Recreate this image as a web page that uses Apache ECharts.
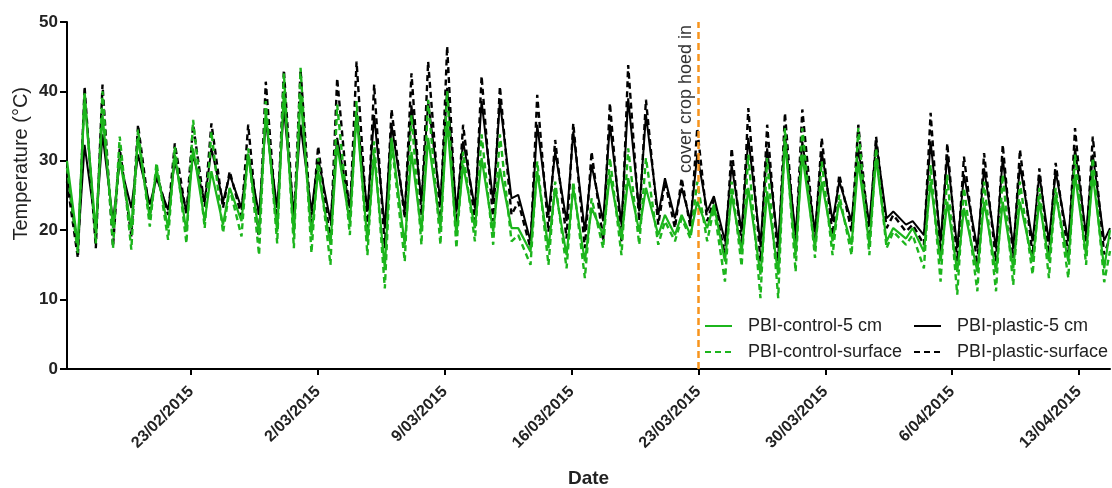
<!DOCTYPE html>
<html>
<head>
<meta charset="utf-8">
<script src="https://cdn.jsdelivr.net/npm/echarts@6/dist/echarts.min.js"></script>
<style>
html,body{margin:0;padding:0;background:#fff;}
#c{width:1112px;height:488px;}
</style>
</head>
<body>
<div id="c"></div>
<script>
// ---- data (days since 16/02/2015 00:00) ----
const tickDays = [7, 14, 21, 28, 35, 42, 49, 56];
const tickLabels = ['23/02/2015', '2/03/2015', '9/03/2015', '16/03/2015', '23/03/2015', '30/03/2015', '6/04/2015', '13/04/2015'];
const seriesNames = ['PBI-control-5 cm', 'PBI-control-surface', 'PBI-plastic-5 cm', 'PBI-plastic-surface'];
const eventDay = 35;
const eventLabel = 'cover crop hoed in';

const startDay = 0.15, endDay = 57.71, lastTroughDay = 57.39, troughLag = 0.37;
const peakDays = [1.12, 2.11, 3.06, 4.07, 5.09, 6.10, 7.11, 8.12, 9.13, 10.15,
  11.12, 12.12, 13.04, 14.01, 15.06, 16.13, 17.10, 18.06, 19.16, 20.08,
  21.13, 22.01, 23.03, 24.04, 25.05, 26.10, 27.09, 28.09, 29.10, 30.11,
  31.12, 32.10, 33.15, 34.07, 34.93, 35.85, 36.83, 37.75, 38.79, 39.77,
  40.73, 41.80, 42.77, 43.82, 44.80, 45.75, 46.82, 47.81, 48.73, 49.65,
  50.76, 51.79, 52.74, 53.81, 54.71, 55.78, 56.76];

// PBI-control-5 cm
const ctl5Start = 30, ctl5End = 20;
const ctl5Min = [17.9, 19.8, 20.3, 20.3, 21.7, 20.3, 19.8, 21.3, 20.8, 21.3,
  19.3, 19.8, 19.3, 19.3, 17.9, 21.0, 18.4, 14.5, 17.9, 19.8,
  20.3, 19.3, 20.3, 19.8, 20.3, 16.9, 17.4, 16.4, 15.5, 19.3,
  18.8, 19.8, 19.3, 19.3, 19.3, 20.3, 15.5, 16.9, 13.6, 13.6,
  16.4, 17.4, 18.4, 17.9, 17.9, 18.4, 18.8, 16.9, 15.5, 14.0,
  14.0, 14.0, 14.5, 15.5, 15.5, 15.5, 16.4, 14.5];
const ctl5Max = [39.0, 36.6, 30.4, 33.3, 28.9, 30.9, 31.8, 28.5, 26.1, 30.9,
  37.1, 40.0, 39.5, 28.5, 32.3, 36.6, 30.9, 33.3, 31.3, 33.3,
  35.7, 29.4, 30.4, 28.9, 20.3, 28.5, 26.1, 26.1, 23.2, 28.0,
  27.5, 26.1, 22.2, 22.2, 24.1, 23.7, 25.1, 26.1, 25.6, 32.8,
  30.9, 27.0, 24.1, 29.9, 30.4, 20.3, 20.3, 27.0, 24.1, 23.2,
  24.1, 24.1, 24.1, 24.1, 25.1, 28.0, 28.0];

// PBI-control-surface
const ctlSStart = 29, ctlSEnd = 17;
const ctlSMin = [16.7, 18.1, 17.4, 17.2, 20.5, 18.6, 18.1, 20.3, 19.6, 19.1,
  16.4, 18.1, 17.4, 16.7, 15.0, 19.3, 16.4, 11.6, 15.5, 17.9,
  17.9, 17.4, 18.4, 17.9, 18.4, 15.0, 15.0, 14.5, 13.1, 17.4,
  16.4, 17.9, 17.9, 18.4, 18.8, 18.4, 12.6, 14.8, 10.2, 10.2,
  14.0, 16.0, 16.4, 16.4, 16.4, 17.4, 17.9, 14.5, 12.6, 10.7,
  11.2, 11.2, 12.1, 13.6, 13.1, 13.1, 15.0, 12.5];
const ctlSMax = [40.0, 40.0, 33.5, 34.5, 29.7, 32.1, 35.9, 34.2, 26.0, 31.8,
  38.6, 42.6, 43.4, 30.4, 38.1, 38.6, 32.8, 32.8, 36.6, 38.8,
  40.0, 31.3, 33.8, 33.8, 19.3, 29.9, 27.0, 27.0, 24.6, 30.4,
  31.8, 30.4, 21.3, 21.7, 27.0, 23.2, 27.0, 30.9, 30.4, 34.7,
  34.7, 29.9, 25.1, 34.7, 31.8, 19.8, 19.3, 29.4, 28.0, 26.1,
  27.0, 28.0, 27.0, 26.1, 26.1, 30.9, 30.4];

// PBI-plastic-5 cm
const pla5Start = 28, pla5End = 20.3;
const pla5Min = [17.4, 20.3, 21.3, 23.2, 23.7, 22.9, 22.7, 24.1, 24.1, 23.2,
  22.2, 23.2, 22.2, 22.7, 21.3, 23.2, 22.7, 20.3, 22.7, 24.1,
  24.1, 22.7, 23.2, 24.1, 24.6, 18.4, 22.2, 21.3, 19.8, 21.3,
  20.8, 22.7, 22.2, 21.7, 21.3, 22.7, 18.4, 19.8, 17.9, 17.9,
  19.3, 19.8, 21.3, 21.3, 20.8, 21.7, 20.8, 19.3, 18.4, 17.4,
  17.4, 17.4, 17.4, 18.4, 18.4, 18.4, 19.3, 18.5];
const pla5Max = [32.3, 33.8, 29.9, 30.9, 27.5, 29.9, 30.9, 31.8, 28.0, 30.9,
  35.7, 37.6, 35.2, 30.4, 33.3, 37.1, 36.6, 35.2, 38.0, 38.6,
  40.5, 32.8, 38.6, 38.6, 25.1, 35.2, 31.3, 34.2, 29.4, 35.2,
  39.0, 36.6, 27.5, 26.1, 30.9, 24.9, 29.4, 33.3, 31.8, 33.8,
  32.8, 31.3, 27.0, 31.8, 32.8, 22.7, 21.3, 32.8, 30.9, 28.0,
  28.9, 30.4, 29.4, 28.0, 28.5, 31.8, 30.9];

// PBI-plastic-surface
const plaSStart = 27, plaSEnd = 19;
const plaSMin = [16.0, 17.4, 17.6, 19.1, 22.2, 22.2, 22.2, 23.4, 23.2, 22.0,
  18.4, 20.3, 20.8, 20.3, 18.4, 21.7, 20.3, 17.4, 21.7, 22.2,
  21.7, 20.3, 21.3, 21.3, 22.2, 17.4, 19.8, 18.8, 17.4, 18.4,
  18.4, 21.3, 20.8, 20.3, 20.3, 21.3, 16.4, 17.9, 15.5, 15.5,
  17.4, 18.4, 19.3, 19.8, 18.8, 20.3, 19.8, 17.9, 16.4, 15.5,
  15.0, 15.5, 16.0, 16.4, 16.4, 16.4, 17.4, 16.5];
const plaSMax = [40.7, 41.0, 31.8, 35.2, 28.2, 32.5, 35.2, 35.4, 28.5, 35.2,
  41.4, 43.1, 43.1, 32.1, 41.9, 44.3, 41.0, 37.4, 42.6, 44.3,
  46.5, 35.2, 42.2, 40.7, 24.1, 39.5, 33.0, 35.4, 31.3, 38.3,
  43.8, 38.8, 27.0, 27.5, 34.7, 24.4, 31.8, 37.6, 35.2, 36.9,
  37.4, 33.3, 28.0, 35.2, 33.5, 22.2, 20.8, 36.9, 32.5, 30.6,
  31.1, 32.3, 31.6, 28.9, 29.7, 34.7, 33.5];

// ---- build series points ----
function build(start, mins, maxs, end) {
  const pts = [[startDay, start]];
  for (let k = 0; k < peakDays.length; k++) {
    pts.push([peakDays[k] - troughLag, mins[k]]);
    pts.push([peakDays[k], maxs[k]]);
  }
  pts.push([lastTroughDay, mins[peakDays.length]]);
  pts.push([endDay, end]);
  return pts;
}

const GREEN = '#1cb51c';
const BLACK = '#000000';
const ORANGE = '#f7941d';
const FONT = '"Liberation Sans", Arial, Helvetica, sans-serif';

const chart = echarts.init(document.getElementById('c'), null, {renderer: 'canvas'});

function lineSeries(name, data, color, dashed, width, z) {
  return {
    name: name, type: 'line', data: data, showSymbol: false, symbol: 'none',
    animation: false, z: z,
    lineStyle: {color: color, width: width, type: dashed ? [6, 4] : 'solid'},
    itemStyle: {color: color}
  };
}

const sPlaS = lineSeries(seriesNames[3], build(plaSStart, plaSMin, plaSMax, plaSEnd), BLACK, true, 2.4, 2);
const sPla5 = lineSeries(seriesNames[2], build(pla5Start, pla5Min, pla5Max, pla5End), BLACK, false, 2, 3);
const sCtlS = lineSeries(seriesNames[1], build(ctlSStart, ctlSMin, ctlSMax, ctlSEnd), GREEN, true, 2.4, 4);
const sCtl5 = lineSeries(seriesNames[0], build(ctl5Start, ctl5Min, ctl5Max, ctl5End), GREEN, false, 2.2, 5);
sCtl5.markLine = {
  silent: true, symbol: ['none', 'none'], animation: false,
  lineStyle: {color: ORANGE, width: 2.5, type: [7, 4]},
  label: {show: true, formatter: eventLabel, position: 'insideEndTop', distance: 3,
    color: '#333', fontSize: 18, fontFamily: FONT},
  data: [{xAxis: eventDay}]
};

const legendText = {color: '#222', fontSize: 18, fontFamily: FONT, lineHeight: 20, padding: [0, 0, 0, 11]};
const legendCommon = {orient: 'vertical', top: 316, padding: 0, itemWidth: 27, itemHeight: 14, itemGap: 6,
  textStyle: legendText, selectedMode: false, itemStyle: {opacity: 0, borderWidth: 0}};

chart.setOption({
  animation: false,
  backgroundColor: '#fff',
  grid: {left: 67, top: 22, width: 1043, height: 347, containLabel: false, outerBoundsMode: 'none'},
  xAxis: {
    type: 'value', min: startDay, max: endDay,
    splitLine: {show: false},
    axisLine: {lineStyle: {color: '#000', width: 2}},
    axisTick: {show: true, customValues: tickDays, length: 6, lineStyle: {color: '#000', width: 2}},
    axisLabel: {
      customValues: tickDays, rotate: 45, margin: 20,
      fontSize: 16, fontWeight: 'bold', color: '#222', fontFamily: FONT,
      formatter: function (v) { const i = tickDays.indexOf(Math.round(v)); return i >= 0 ? tickLabels[i] : ''; }
    },
    name: 'Date', nameLocation: 'middle', nameGap: 100,
    nameTextStyle: {fontSize: 19, fontWeight: 'bold', color: '#222', fontFamily: FONT}
  },
  yAxis: {
    type: 'value', min: 0, max: 50, interval: 10,
    splitLine: {show: false},
    axisLine: {show: true, lineStyle: {color: '#000', width: 2}},
    axisTick: {show: true, length: 7, lineStyle: {color: '#000', width: 2}},
    axisLabel: {fontSize: 17, fontWeight: 'bold', color: '#222', fontFamily: FONT, margin: 9}
  },
  legend: [
    Object.assign({data: [seriesNames[0], seriesNames[1]], left: 704}, legendCommon),
    Object.assign({data: [seriesNames[2], seriesNames[3]], left: 913}, legendCommon)
  ],
  graphic: [{
    type: 'text', left: 11, top: 87, rotation: Math.PI / 2,
    style: {text: 'Temperature (°C)', fill: '#222', font: '20px ' + FONT}
  }],
  series: [sPlaS, sPla5, sCtlS, sCtl5]
});
</script>
</body>
</html>
